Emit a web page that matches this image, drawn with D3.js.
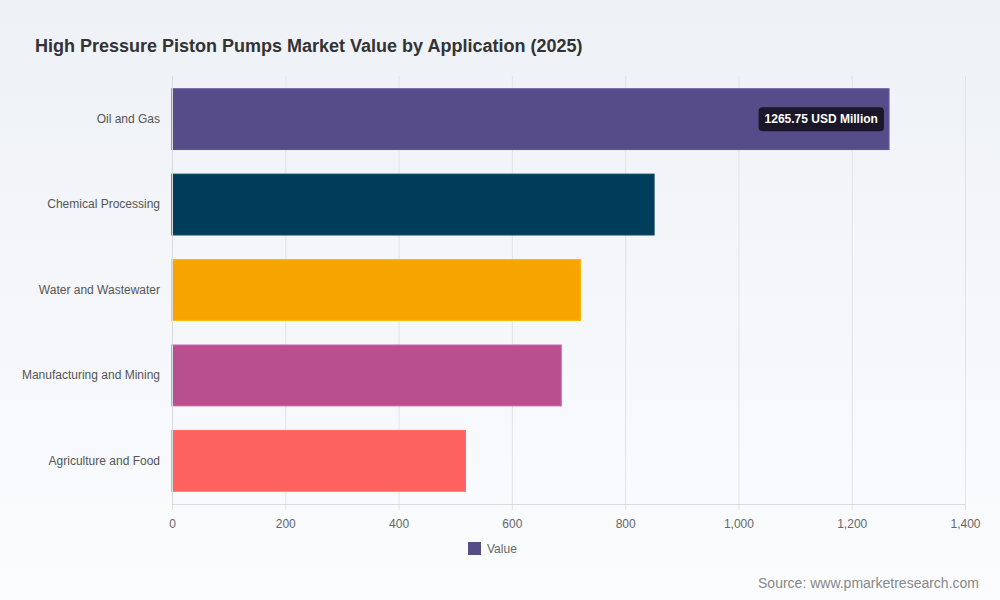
<!DOCTYPE html>
<html>
<head>
  <meta charset="utf-8">
  <title>High Pressure Piston Pumps Market Value by Application (2025)</title>
  <style>
    body { margin: 0; font-family: "Liberation Sans", Arial, sans-serif; }
    svg { display: block; }
  </style>
</head>
<body>
  <svg width="1000" height="600"></svg>

  <script src="https://d3js.org/d3.v7.min.js"></script>
  <script>
    // values
    var categories = ['Oil and Gas', 'Chemical Processing', 'Water and Wastewater', 'Manufacturing and Mining', 'Agriculture and Food'];
    var values = [1265.75, 851, 721, 687, 518];
    var colors = ['#564c8a', '#003d5b', '#f7a300', '#b84f8e', '#fd6260'];
    var xTicks = [0, 200, 400, 600, 800, 1000, 1200, 1400];

    var svg = d3.select('svg');
    var width = 1000, height = 600;
    var margin = { top: 76, right: 35, bottom: 96, left: 172 };

    // background gradient
    var defs = svg.append('defs');
    var grad = defs.append('linearGradient').attr('id', 'bg')
      .attr('x1', 0).attr('y1', 0).attr('x2', 0).attr('y2', 1);
    grad.append('stop').attr('offset', '0%').attr('stop-color', '#eef1f6');
    grad.append('stop').attr('offset', '100%').attr('stop-color', '#fbfcfe');
    svg.append('rect').attr('width', width).attr('height', height).attr('fill', 'url(#bg)');

    svg.append('text')
      .attr('x', 35).attr('y', 52)
      .attr('font-size', 18).attr('font-weight', 'bold')
      .attr('fill', '#333')
      .text('High Pressure Piston Pumps Market Value by Application (2025)');

    var x = d3.scaleLinear().domain([0, 1400]).range([margin.left, width - margin.right]);
    var y = d3.scaleBand().domain(categories)
      .range([margin.top, height - margin.bottom])
      .paddingInner(0.29).paddingOuter(0.15);

    // vertical grid lines
    svg.append('g')
      .selectAll('line')
      .data(xTicks)
      .join('line')
      .attr('x1', function(d) { return x(d) + 0.5; })
      .attr('x2', function(d) { return x(d) + 0.5; })
      .attr('y1', margin.top)
      .attr('y2', height - margin.bottom + 6)
      .attr('stroke', '#e1e3e8')
      .attr('stroke-width', 1);

    // x axis line
    svg.append('line')
      .attr('x1', margin.left).attr('x2', width - margin.right)
      .attr('y1', height - margin.bottom + 0.5).attr('y2', height - margin.bottom + 0.5)
      .attr('stroke', '#d9dbe0');

    // bars
    var data = categories.map(function(c, i) { return { name: c, value: values[i], color: colors[i] }; });
    svg.append('g')
      .selectAll('rect')
      .data(data)
      .join('rect')
      .attr('x', x(0))
      .attr('y', function(d) { return y(d.name); })
      .attr('width', function(d) { return x(d.value) - x(0); })
      .attr('height', y.bandwidth())
      .attr('fill', function(d) { return d.color; })
      .attr('stroke', function(d) { return d3.color(d.color).brighter(0.3); })
      .attr('stroke-width', 1.2);

    // x axis tick labels
    var xAxis = d3.axisBottom(x).tickValues(xTicks).tickSize(0).tickPadding(15)
      .tickFormat(d3.format(','));
    var gx = svg.append('g')
      .attr('transform', 'translate(0,' + (height - margin.bottom) + ')')
      .call(xAxis);
    gx.select('.domain').remove();
    gx.selectAll('text').attr('font-size', 12).attr('fill', '#666')
      .attr('font-family', '"Liberation Sans", Arial, sans-serif');

    // y axis labels
    var yAxis = d3.axisLeft(y).tickSize(0).tickPadding(12);
    var gy = svg.append('g')
      .attr('transform', 'translate(' + margin.left + ',0)')
      .call(yAxis);
    gy.select('.domain').attr('stroke', '#d9dbe0');
    gy.selectAll('text').attr('font-size', 12).attr('fill', '#555')
      .attr('font-family', '"Liberation Sans", Arial, sans-serif');

    // tooltip on the top bar
    var topBar = data[0];
    var tipText = topBar.value.toFixed(2) + ' USD Million';
    var tip = svg.append('g');
    var tipLabel = tip.append('text')
      .attr('font-size', 12).attr('font-weight', 'bold').attr('fill', '#fff')
      .attr('text-anchor', 'end')
      .attr('x', x(topBar.value) - 11)
      .attr('y', y(topBar.name) + y.bandwidth() / 2 + 4)
      .text(tipText);
    var bb = tipLabel.node().getBBox();
    tip.insert('rect', 'text')
      .attr('x', bb.x - 6).attr('y', bb.y - 5)
      .attr('width', bb.width + 12).attr('height', bb.height + 10)
      .attr('rx', 4)
      .attr('fill', '#1b1728');

    // legend
    var legend = svg.append('g').attr('transform', 'translate(468,542)');
    legend.append('rect').attr('width', 13).attr('height', 13).attr('fill', colors[0]);
    legend.append('text').attr('x', 19).attr('y', 11)
      .attr('font-size', 12).attr('fill', '#666').text('Value');

    svg.append('text')
      .attr('x', 979).attr('y', 588)
      .attr('text-anchor', 'end')
      .attr('font-size', 14).attr('fill', '#888')
      .text('Source: www.pmarketresearch.com');
  </script>
</body>
</html>
